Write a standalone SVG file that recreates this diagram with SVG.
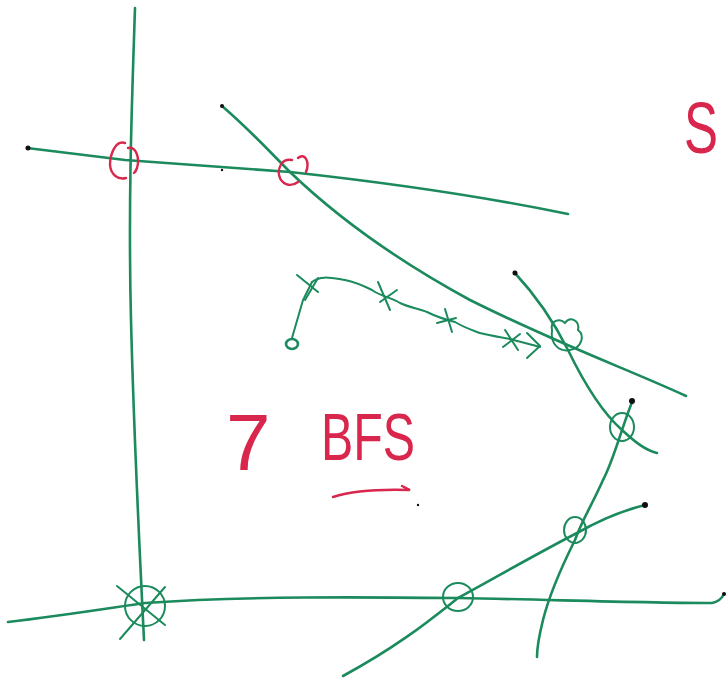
<svg xmlns="http://www.w3.org/2000/svg" width="727" height="682" viewBox="0 0 727 682">
<style>
.g{fill:none;stroke:#1b8a5c;stroke-width:2.6;stroke-linecap:round;stroke-linejoin:round}
.gt{fill:none;stroke:#1b8a5c;stroke-width:2;stroke-linecap:round}
.r{fill:none;stroke:#d8264c;stroke-width:2.4;stroke-linecap:round}
.dot{fill:#111}
.t{font-family:"Liberation Sans",Arial,sans-serif;fill:#d8264c;font-weight:normal}
</style>
<rect width="727" height="682" fill="#fff"/>
<g id="lines">
<path class="g" d="M135,8 C132,100 128,200 131,320 C134,440 140,560 144,640"/>
<path class="g" d="M27,148 L125,160 L290,172 C400,184 500,200 568,214"/>
<path class="g" d="M222,106 C250,130 270,152 290,172 C340,220 400,262 470,300 C560,345 630,370 686,396"/>
<path class="g" d="M8,622 C60,616 110,608 145,603 C250,596 360,597 458,598 C560,600 650,603 712,603 C718,602 722,598 724,594"/>
<path class="g" d="M343,676 C400,645 430,620 458,598 C500,575 540,552 577,533 C600,520 625,510 645,505"/>
<path class="g" d="M514,272 C540,300 558,330 568,350 C585,385 605,415 622,430 C635,442 645,450 657,453"/>
<path class="g" d="M633,400 C624,420 614,460 603,480 C592,505 582,520 575,540 C560,570 548,600 543,620 C538,640 537,650 537,657"/>
<circle class="dot" cx="28" cy="148" r="2.5"/>
<circle class="dot" cx="222" cy="106" r="2"/>
<circle class="dot" cx="515" cy="273" r="2.5"/>
<circle class="dot" cx="632" cy="401" r="3"/>
<circle class="dot" cx="645" cy="505" r="3"/>
<circle class="dot" cx="724" cy="594" r="2"/>
<circle class="dot" cx="222" cy="170" r="1.2"/>
<circle class="dot" cx="418" cy="505" r="1.2"/>
</g>
<g id="red-marks">
<path class="r" d="M125,143 C115,140 110,155 110,165 C111,175 118,180 126,178"/>
<path class="r" d="M128,148 C136,146 140,158 137,168 C136,171 134,173 134,173"/>
<path class="r" d="M292,160 C283,158 278,166 279,175 C281,184 290,188 298,182"/>
<path class="r" d="M298,158 C305,152 310,162 306,172"/>
</g>
<g id="green-circles">
<path class="gt" d="M552,330 C550,320 560,318 565,323 C570,316 580,320 578,330 C585,335 582,348 570,350 C560,352 550,345 552,330"/>
<ellipse class="gt" cx="622" cy="427" rx="12" ry="14"/>
<ellipse class="gt" cx="575" cy="530" rx="11" ry="13"/>
<ellipse class="gt" cx="458" cy="597" rx="15" ry="14"/>
<ellipse class="gt" cx="145" cy="606" rx="20" ry="20"/>
<path class="gt" d="M117,586 L165,625"/>
<path class="gt" d="M165,587 L120,639"/>
</g>
<g id="bfs-path">
<ellipse class="g" cx="292" cy="344" rx="6" ry="5"/>
<path class="gt" d="M292,338 L303,300 L312,282"/>
<path class="gt" d="M297,275 L318,292"/>
<path class="gt" d="M305,300 L318,278"/>
<path class="gt" d="M312,282 C320,275 332,278 345,280 C355,282 362,285 372,290 C380,296 392,298 400,303 C410,308 418,308 427,312 C437,317 447,320 455,322 C465,328 472,330 480,333 C492,336 500,337 510,339 C520,342 530,344 540,347"/>
<path class="gt" d="M378,282 L390,310"/>
<path class="gt" d="M380,302 L397,290"/>
<path class="gt" d="M445,309 L452,332"/>
<path class="gt" d="M437,323 L456,318"/>
<path class="gt" d="M505,330 L518,350"/>
<path class="gt" d="M503,347 L520,334"/>
<path class="gt" d="M527,333 L540,346 L527,358"/>
</g>
<g id="labels">
<text class="t" x="226" y="470" font-size="80">7</text>
<text class="t" x="321" y="460" font-size="66" textLength="94" lengthAdjust="spacingAndGlyphs">BFS</text>
<path class="r" d="M333,497 C355,490 380,489 410,490 L402,486"/>
<text class="t" x="684" y="153" font-size="72" textLength="34" lengthAdjust="spacingAndGlyphs">S</text>
</g>
</svg>
